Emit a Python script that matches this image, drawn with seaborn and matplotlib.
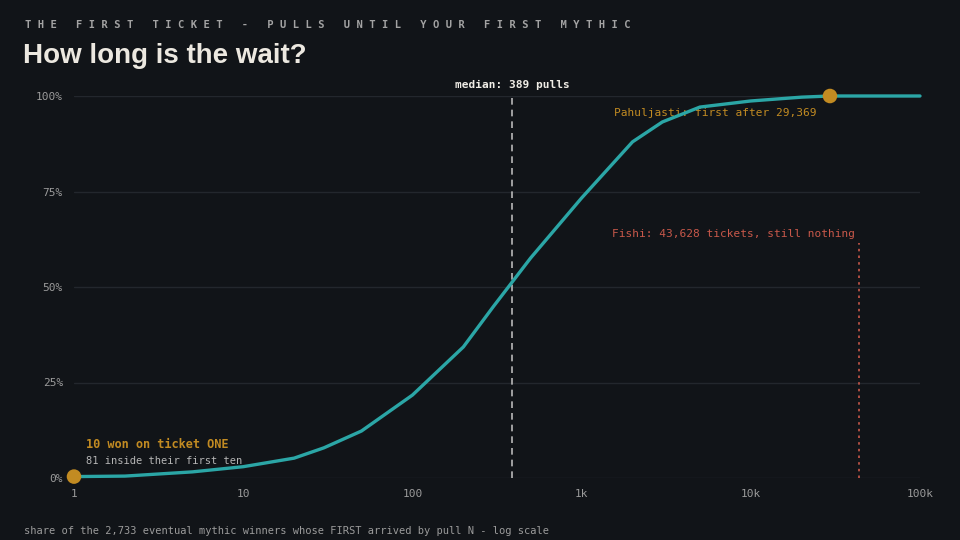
import numpy as np
import pandas as pd
import seaborn as sns
import matplotlib.pyplot as plt
from matplotlib.ticker import FixedLocator, FixedFormatter

# datos (pull N, % acumulado)
pulls = [1, 2, 5, 10, 20, 30, 50, 100, 200, 300, 500, 1000, 2000, 3000, 5000, 10000, 20000, 29369, 100000]
share = [0.37, 0.5, 1.6, 2.96, 5.2, 7.9, 12.3, 21.7, 34.3, 44.8, 57.6, 73.3, 88.0, 93.2, 97.1, 98.7, 99.7, 100.0, 100.0]

highlight_pulls = [1, 29369]
highlight_share = [0.37, 100.0]

median_pull = 389
fishi_pulls = 43628

x_ticks = [1, 10, 100, 1000, 10000, 100000]
x_labels = ['1', '10', '100', '1k', '10k', '100k']
y_ticks = [0, 25, 50, 75, 100]
y_labels = ['0%', '25%', '50%', '75%', '100%']

# colores
BG = '#111418'
TEAL = '#2ba6a6'
GOLD = '#c28b22'
RED = '#c8584a'
GRID = '#23272d'
GREY = '#9b9b9b'
MONO = 'DejaVu Sans Mono'

sns.set_theme(style='dark')
plt.rcParams['font.family'] = ['DejaVu Sans Mono', 'DejaVu Sans']

df = pd.DataFrame({'pulls': pulls, 'share': share})
dots = pd.DataFrame({'pulls': highlight_pulls, 'share': highlight_share})

fig = plt.figure(figsize=(9.6, 5.4), dpi=100, facecolor=BG)
ax = fig.add_axes([74 / 960, 1 - 478 / 540, (920 - 74) / 960, (478 - 96) / 540])
ax.set_facecolor(BG)

ax.set_xscale('log')
ax.set_xlim(1, 100000)
ax.set_ylim(0, 100)

for yv in y_ticks:
    ax.axhline(yv, color=GRID, lw=1, zorder=0)

ax.axvline(median_pull, ymin=0, ymax=1, color='#b8b8b8', lw=1.2, ls=(0, (4, 3)), zorder=1)
ax.axvline(fishi_pulls, ymin=0, ymax=(478 - 243) / 382, color=RED, lw=1.2, ls=(0, (1.5, 2.5)), zorder=1)

ax.text(fishi_pulls * 0.94, 64, 'Fishi: 43,628 tickets, still nothing', color=RED,
        fontsize=8, ha='right', va='center', family=MONO, zorder=2)
ax.text(24500, 95.6, 'Pahuljasti: first after 29,369', color=GOLD,
        fontsize=8, ha='right', va='center', family=MONO, zorder=2)

sns.lineplot(data=df, x='pulls', y='share', ax=ax, color=TEAL, lw=2.4, zorder=3,
             clip_on=False)
sns.scatterplot(data=dots, x='pulls', y='share', ax=ax, color=GOLD, s=110,
                edgecolor='none', zorder=4, clip_on=False)

ax.text(median_pull, 103, 'median: 389 pulls', color='#f0ede6', fontsize=8,
        fontweight='bold', ha='center', va='center', family=MONO)
ax.text(1.18, 8.7, '10 won on ticket ONE', color=GOLD, fontsize=8.6,
        fontweight='bold', ha='left', va='center', family=MONO)
ax.text(1.18, 4.4, '81 inside their first ten', color='#b5b5b5', fontsize=7.5,
        ha='left', va='center', family=MONO)

ax.xaxis.set_major_locator(FixedLocator(x_ticks))
ax.xaxis.set_major_formatter(FixedFormatter(x_labels))
ax.xaxis.set_minor_locator(FixedLocator([]))
ax.set_yticks(y_ticks)
ax.set_yticklabels(y_labels)
ax.tick_params(axis='x', colors=GREY, labelsize=8, length=0, pad=8)
ax.tick_params(axis='y', colors=GREY, labelsize=8, length=0, pad=8)
for lab in ax.get_xticklabels() + ax.get_yticklabels():
    lab.set_family(MONO)
ax.set_xlabel('')
ax.set_ylabel('')
ax.grid(False)
for s in ax.spines.values():
    s.set_visible(False)

# titulos
words = 'THE FIRST TICKET - PULLS UNTIL YOUR FIRST MYTHIC'.split(' ')
kicker = '   '.join(' '.join(w) for w in words)
fig.text(25 / 960, 1 - 25 / 540, kicker, color='#a3a3a3', fontsize=7.6,
         fontweight='bold', family=MONO, ha='left', va='center')
fig.text(23 / 960, 1 - 63 / 540, 'How long is the wait?', color='#ece8e0',
         fontsize=20, fontweight='bold', family='Liberation Sans', ha='left', va='baseline')
fig.text(24 / 960, 1 - 531 / 540,
         'share of the 2,733 eventual mythic winners whose FIRST arrived by pull N - log scale',
         color=GREY, fontsize=7.5, family=MONO, ha='left', va='center')

fig.savefig('out.png', dpi=100, facecolor=BG)
